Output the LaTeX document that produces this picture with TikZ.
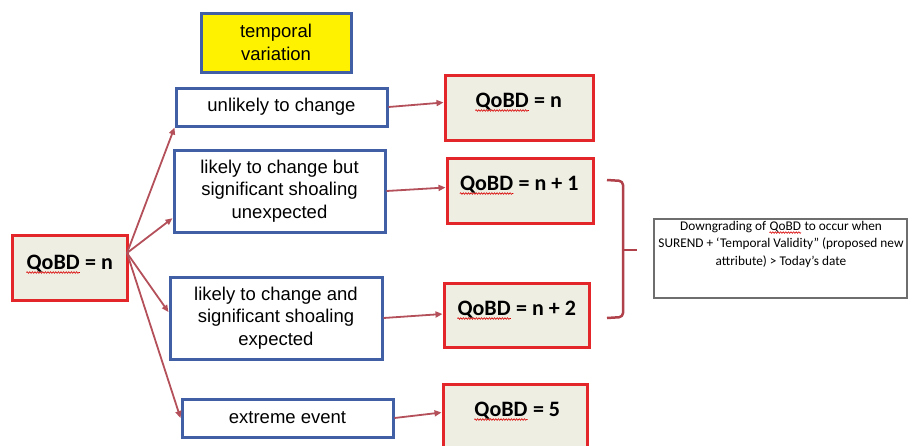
\documentclass[tikz,border=0pt]{standalone}
\usepackage{fontspec}
\setmainfont{Liberation Sans}
\newfontfamily\calib{Carlito}
\usetikzlibrary{arrows.meta,calc,decorations.pathmorphing}
\definecolor{blueB}{HTML}{415FA5}
\definecolor{redB}{HTML}{E3262A}
\definecolor{qfill}{HTML}{EEEEE3}
\definecolor{arrowC}{HTML}{B4505A}
\definecolor{brC}{HTML}{B0404A}
\definecolor{grayB}{HTML}{6E6E6E}
\newcommand\redwave[2][3.5]{\tikz[baseline=(w.base),x=1pt,y=1pt]{\node[inner sep=0pt,draw=none,fill=none,anchor=base,minimum width=0pt,minimum height=0pt](w) at (0,0){#2};\draw[red!85!black,line width=0.6pt,decorate,decoration={snake,amplitude=0.8pt,segment length=2.6pt}] ($(w.base west)+(0,-#1)$) -- ($(w.base east)+(0,-#1)$);}}
\tikzset{
  bluebox/.style={draw=blueB, line width=3pt, fill=white, inner sep=0pt, align=center,
    font=\fontsize{18.5}{22.5}\selectfont},
  qbox/.style={draw=redB, line width=3pt, fill=qfill, inner sep=0pt},
  qtext/.style={inner sep=0pt, anchor=base, font=\calib\bfseries\fontsize{22}{26}\selectfont},
  conn/.style={draw=arrowC, line width=1.8pt, -{Triangle[length=7pt,width=6pt]}},
}
\begin{document}
\begin{tikzpicture}[x=1pt,y=-1pt]
\useasboundingbox (0,0) rectangle (912,445);
\clip (0,0) rectangle (912,445);
% temporal variation
\node[bluebox, fill=yellow, minimum width=150pt, minimum height=59pt] (tv) at (276,42.5) {temporal\\variation};
% option boxes
\node[bluebox, minimum width=211pt, minimum height=38pt] (b1) at (281.5,107) {unlikely to change};
\node[bluebox, minimum width=211pt, minimum height=82pt] (b2) at (279.5,191) {likely to change but\\significant shoaling\\unexpected};
\node[bluebox, minimum width=212pt, minimum height=82pt] (b3) at (276,318) {likely to change and\\significant shoaling\\expected};
\node[bluebox, minimum width=211pt, minimum height=38pt] (b4) at (287.5,418) {extreme event};
% QoBD boxes
\node[qbox, minimum width=115pt, minimum height=65pt] (q0) at (69.5,267.5) {};
\node[qbox, minimum width=148pt, minimum height=65pt] (q1) at (519,107.5) {};
\node[qbox, minimum width=146pt, minimum height=65pt] (q2) at (520,190.5) {};
\node[qbox, minimum width=145pt, minimum height=64pt] (q3) at (516.5,315) {};
\node[qbox, minimum width=144pt, minimum height=65pt] (q4) at (515,416.5) {};
\node[qtext] (l0) at (69.5,269) {\redwave{QoBD} = n};
\node[qtext] (l1) at (518.5,107) {\redwave{QoBD} = n};
\node[qtext] (l2) at (519,190) {\redwave{QoBD} = n + 1};
\node[qtext] (l3) at (516.5,315) {\redwave{QoBD} = n + 2};
\node[qtext] (l4) at (517,416) {\redwave{QoBD} = 5};
% description
\node[draw=grayB, line width=1.3pt, minimum width=253pt, minimum height=79pt, inner sep=0pt] (desc) at (780.5,258.5) {};
\node[inner sep=0pt, align=center, font=\calib\fontsize{13.3}{17.5}\selectfont] (dtext) at (781,244)
  {Downgrading of \redwave[2.5]{QoBD} to occur when\\SUREND + ‘Temporal Validity” (proposed new\\attribute) > Today’s date};
% bracket
\coordinate (bt) at (607,180);
\coordinate (bb) at (607,318);
\coordinate (bm) at (637,250);
\draw[brC, line width=2.5pt, line join=round, rounded corners=4pt]
  (bt) -- (623,181) -- (623,317) -- (bb);
\draw[brC, line width=2.5pt] (623,250) -- (bm);
% connectors from QoBD = n
\coordinate (src) at (127,253);
\draw[conn] (src) -- (b1.south west);
\draw[conn] (src) -- ($(b2.south west)!0.18!(b2.north west)$);
\draw[conn] (src) -- ($(b3.north west)!0.43!(b3.south west)$);
\draw[conn] (src) -- (b4.west);
% connectors to QoBD results
\draw[conn] (b1.east) -- ($(q1.west)+(0,-5)$);
\draw[conn] (b2.east) -- ($(q2.west)+(0,-3)$);
\draw[conn] (b3.east) -- ($(q3.west)+(0,-1)$);
\draw[conn] (b4.east) -- ($(q4.west)+(0,-4)$);
\end{tikzpicture}
\end{document}
